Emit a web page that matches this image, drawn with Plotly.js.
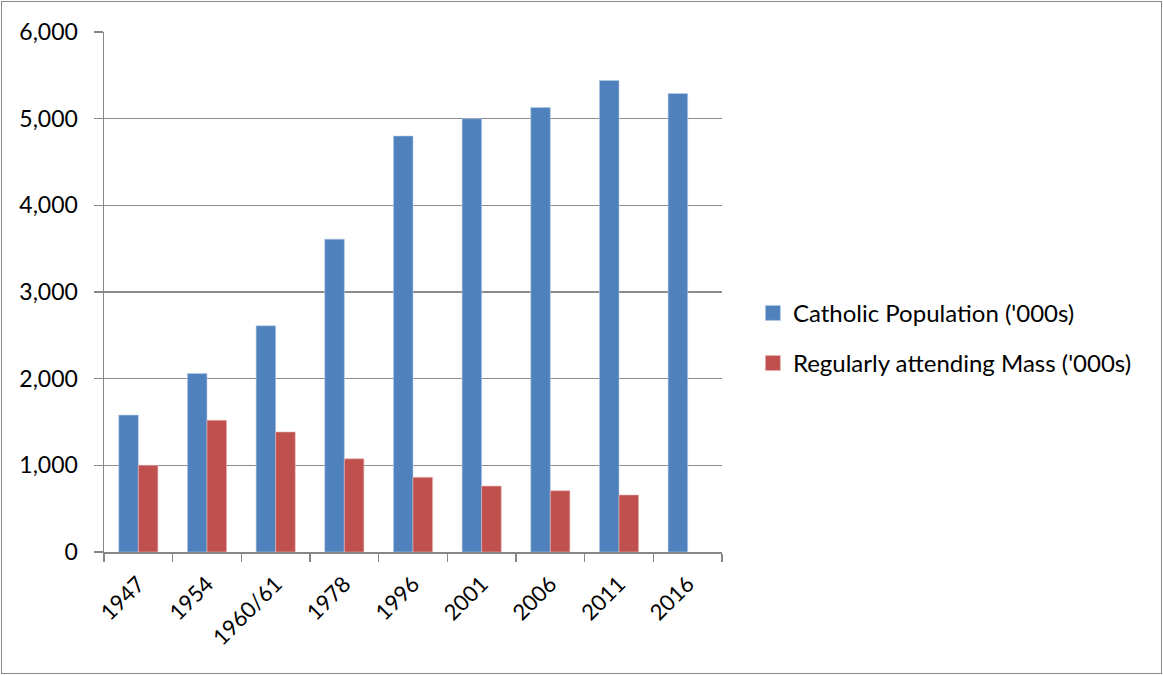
<!DOCTYPE html>
<html>
<head>
<meta charset="utf-8">
<script src="https://cdn.plot.ly/plotly-3.0.1.min.js"></script>
<style>
  html, body { margin: 0; padding: 0; background: #fff; }
  #wrap { position: relative; width: 1163px; height: 675px; }
  #chart { width: 1163px; height: 675px; }
  #frame { position: absolute; left: 1px; top: 1px; width: 1159px; height: 671px;
           border: 1px solid #8a8a8a; pointer-events: none; }
</style>
</head>
<body>
<div id="wrap">
  <div id="chart"></div>
  <div id="frame"></div>
</div>
<script>
// Census years
const years = ["1947", "1954", "1960/61", "1978", "1996", "2001", "2006", "2011", "2016"];
// Catholic population, thousands
const catholicPopulation = [1580, 2060, 2610, 3610, 4800, 5000, 5130, 5440, 5290];
// Regular Mass attendance, thousands (no figure for 2016)
const massAttendance = [1000, 1520, 1385, 1075, 862, 761, 707, 658, null];

const seriesNames = ["Catholic Population ('000s)", "Regularly attending Mass ('000s)"];
const yTicks = [0, 1000, 2000, 3000, 4000, 5000, 6000];

const fontFamily = "Lato, 'Open Sans', sans-serif";
const axisGrey = "#868686";

const traces = [
  {
    type: "bar", name: seriesNames[0], x: years, y: catholicPopulation,
    marker: { color: "#4f81bd", line: { color: "#b9cde5", width: 0.6 } },
    legendgroup: "a", hoverinfo: "x+y"
  },
  {
    type: "bar", name: seriesNames[1], x: years, y: massAttendance,
    marker: { color: "#c0504d", line: { color: "#e6b9b8", width: 0.6 } },
    legendgroup: "b", hoverinfo: "x+y"
  }
];

const layout = {
  width: 1163, height: 675,
  margin: { l: 104, r: 441, t: 32, b: 123 },
  paper_bgcolor: "#ffffff", plot_bgcolor: "#ffffff",
  font: { family: fontFamily, size: 22, color: "#000" },
  barmode: "group", bargap: 0.43, bargroupgap: 0,
  showlegend: true,
  legend: {
    x: 1.05, xanchor: "left", y: 0.411, yanchor: "middle",
    font: { family: fontFamily, size: 24, color: "#000" },
    traceorder: "grouped", tracegroupgap: 16,
    bgcolor: "rgba(0,0,0,0)"
  },
  xaxis: {
    type: "category", tickangle: -45,
    showline: true, linecolor: axisGrey, linewidth: 1.5,
    ticks: "outside", tickson: "boundaries", ticklen: 8, tickcolor: axisGrey, tickwidth: 1.5,
    ticklabelstandoff: 9,
    showgrid: false, tickfont: { family: fontFamily, size: 22, color: "#000" },
    fixedrange: true
  },
  yaxis: {
    range: [0, 6000], tickvals: yTicks, tickformat: ",d",
    showline: true, linecolor: axisGrey, linewidth: 1.5,
    ticks: "outside", ticklen: 9, tickcolor: axisGrey, tickwidth: 1.5,
    ticklabelstandoff: 11,
    showgrid: true, gridcolor: "#8c8c8c", gridwidth: 1.5,
    zeroline: false,
    tickfont: { family: fontFamily, size: 23, color: "#000" },
    fixedrange: true
  }
};

Plotly.newPlot("chart", traces, layout, { displayModeBar: false, staticPlot: true }).then(() => {
  // slightly larger square swatches in the legend
  document.querySelectorAll(".legendpoints path").forEach(p => {
    p.setAttribute("d", "M7.5,7.5H-7.5V-7.5H7.5Z");
  });
});
</script>
</body>
</html>
